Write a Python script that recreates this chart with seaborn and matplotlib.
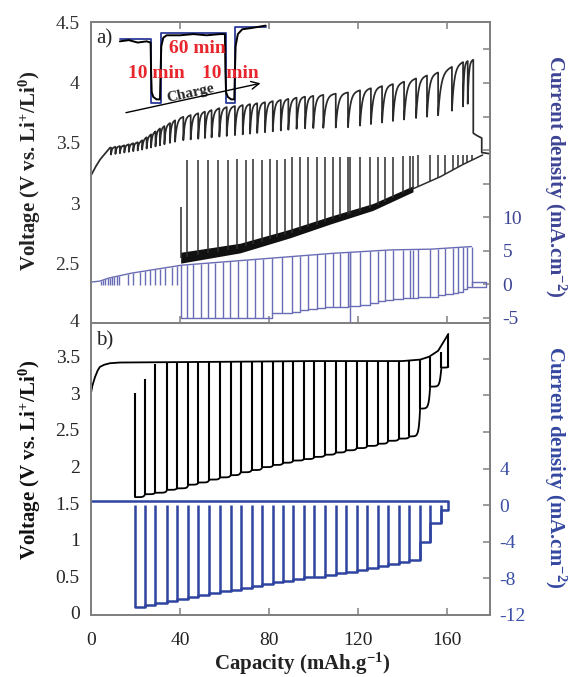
import numpy as np
import matplotlib
matplotlib.use("Agg")
import matplotlib.pyplot as plt
import seaborn as sns

# ======================= DATA =======================
X_TICKS = [0, 40, 80, 120, 160]
X_TICK_LABELS = ["0", "40", "80", "120", "160"]

# ---- panel a) : voltage (left axis) ----
A_TOP_X = [0, 2, 4, 8.5, 15, 22, 31, 40, 58, 79, 94, 116, 139, 157, 167, 171.8]
A_TOP_V = [3.23, 3.30, 3.36, 3.46, 3.48, 3.51, 3.62, 3.71, 3.79, 3.84, 3.88, 3.92, 4.00, 4.09, 4.17, 4.19]
A_BOT_X = [8, 22, 40, 79, 94, 116, 139, 157, 167, 171.8]
A_BOT_V = [3.40, 3.44, 3.52, 3.59, 3.62, 3.63, 3.69, 3.73, 3.80, 3.85]
A_ARCH_X = [9, 11, 13, 15, 17, 19, 21, 23, 25, 27, 29, 31, 33, 35.5, 37.8, 41.5, 44.8,
            48.2, 51.2, 54.2, 57.7, 61, 64.7, 68.2, 71.5, 74.7, 78.2, 81.7, 85.3, 88.7,
            92.4, 96.2, 99.9, 104.4, 110.0, 115.5, 120.9, 125.8, 130.8, 135.7, 140.7,
            146.1, 151, 156, 162.2, 167.2, 169.3, 171.8]
A_TAIL_X = [171.8, 173.5, 175.6, 175.6, 179.3]
A_TAIL_V = [3.58, 3.56, 3.54, 3.42, 3.41]

A_LOW_X = [40.3, 67, 89.4, 107.4, 126.7, 144.7, 157, 167, 176]
A_LOW_V = [2.55, 2.63, 2.75, 2.86, 2.97, 3.12, 3.22, 3.32, 3.40]
A_BAND_END = 144.7
A_LOW_PULSE_X = [40.3, 43.3, 48.0, 52.6, 56.9, 61.4, 65.7, 69.5, 72.9, 76.7, 80.4, 83.7,
                 87.2, 90.2, 93.9, 97.7, 101.4, 105.2, 108.9, 111.9, 115.6, 116.4, 120.9,
                 125.4, 129.1, 132.1, 135.9, 140.4, 143.4, 144.9, 147.1, 152.4, 156.1,
                 159.1, 162.8, 165.0, 167.2, 168.8, 171.0]
A_LOW_PULSE_TOP = [2.97, 3.36, 3.36, 3.36, 3.36, 3.36, 3.37, 3.36, 3.37, 3.36, 3.37, 3.36,
                   3.37, 3.38, 3.38, 3.38, 3.38, 3.38, 3.38, 3.38, 3.38, 3.38, 3.38,
                   3.38, 3.38, 3.38, 3.38, 3.39, 3.39, 3.39, 3.40, 3.40, 3.40,
                   3.40, 3.40, 3.40, 3.40, 3.40, 3.40]

# ---- panel a) : current density (right axis) ----
A_CUR_TOP_X = [0, 4, 8, 17.5, 40, 59, 89.4, 104, 134, 152, 171]
A_CUR_TOP_V = [0.3, 0.45, 0.9, 1.6, 2.8, 3.3, 4.1, 4.5, 5.1, 5.2, 5.6]
A_CUR_PULSE_X = [4.5, 5.5, 6.5, 7.5, 8.5, 9.5, 10.5, 11.5, 12.5, 16.6, 18.9, 22.0, 24.3,
                 26.5, 28.8, 31.0, 33.3, 36.4, 38.7, 40.3, 43.0, 46.0, 49.3, 52.7, 55.7,
                 59.5, 62.5, 66.2, 70.0, 73.7, 77.4, 81.2, 85.7, 90.2, 93.9, 97.7, 101.4,
                 105.2, 108.9, 111.9, 115.6, 116.4, 120.9, 125.4, 129.1, 132.1, 135.9,
                 140.4, 143.4, 144.9, 147.1, 152.4, 156.1, 159.1, 162.8, 165.0, 167.2,
                 168.8, 171.0]
A_CUR_REST = -0.1
A_CUR_BOT_X = [40.3, 77, 80, 89.4, 94, 106, 116, 124, 134, 152, 165, 171]
A_CUR_BOT_V = [-5.1, -5.1, -4.4, -4.2, -3.9, -3.4, -3.3, -2.9, -2.2, -1.9, -1.2, -0.1]
A_CUR_SPIKE_X = [116.4]
A_CUR_SPIKE_LOW = [-5.8]
A_CUR_BOX_X = [171.0, 171.0, 177.5, 177.5, 171.0]
A_CUR_BOX_V = [-0.1, 0.35, 0.35, -0.4, -0.4]

# ---- panel a) inset schematic (left-axis units) ----
INSET_BLUE_X = [13.0, 27.0, 27.0, 31.3, 31.3, 60.5, 60.5, 64.7, 64.7, 78.5]
INSET_BLUE_V = [4.36, 4.36, 3.83, 3.83, 4.41, 4.41, 3.83, 3.83, 4.46, 4.46]
INSET_BLACK_X = [13.0, 17, 21, 25, 26.8, 27.0, 27.3, 28.0, 29.5, 31.0, 31.3, 31.6, 32.5, 34,
                 40, 46, 52, 58, 60.2, 60.4, 60.7, 61.5, 63, 64.4, 64.7, 65.0, 66, 68, 72, 78.5]
INSET_BLACK_V = [4.34, 4.35, 4.33, 4.34, 4.33, 4.10, 3.92, 3.88, 3.86, 3.86, 4.10, 4.30, 4.37,
                 4.39, 4.39, 4.40, 4.39, 4.40, 4.40, 4.10, 3.92, 3.88, 3.86, 3.86, 4.10, 4.30,
                 4.40, 4.44, 4.45, 4.47]

# ---- panel b) ----
B_PULSE_X = [19.8, 24.3, 28.8, 34.2, 38.6, 43.8, 48.3, 53.2, 58.0, 62.8, 67.3, 72.2, 77.0,
             81.9, 86.4, 90.9, 95.7, 100.4, 105.2, 110.0, 114.6, 119.4, 124.2, 129.1, 133.6,
             138.4, 143.1, 147.9, 152.4, 157.4, 160.6]
B_V_TOPS = [3.00, 3.20, 3.40, 3.42, 3.42, 3.43, 3.43, 3.43, 3.43, 3.43, 3.43, 3.43, 3.43,
            3.43, 3.43, 3.43, 3.44, 3.44, 3.44, 3.44, 3.44, 3.44, 3.44, 3.44, 3.44,
            3.44, 3.44, 3.46, 3.50, 3.57, 3.81]
B_V_BOTS = [1.58, 1.62, 1.64, 1.68, 1.70, 1.75, 1.78, 1.82, 1.85, 1.88, 1.92, 1.95, 1.99,
            2.02, 2.05, 2.08, 2.10, 2.13, 2.16, 2.19, 2.22, 2.25, 2.28, 2.31, 2.35,
            2.38, 2.41, 2.79, 3.09, 3.35]
B_V_END = 3.36
B_PLAT_X = [0, 0, 0.6, 1.8, 3, 4, 6, 8.5, 13, 60, 100, 140, 148, 152, 156, 160.6]
B_PLAT_V = [2.30, 3.00, 3.10, 3.22, 3.31, 3.36, 3.39, 3.41, 3.42, 3.43, 3.44, 3.44, 3.46,
            3.50, 3.58, 3.81]
B_I_LEVELS = [-11.1, -10.9, -10.7, -10.5, -10.3, -10.0, -9.8, -9.6, -9.4, -9.3, -9.0, -8.8,
              -8.6, -8.4, -8.3, -8.1, -7.9, -7.8, -7.6, -7.4, -7.3, -7.1, -6.9, -6.6,
              -6.4, -6.2, -6.0, -4.0, -2.0, -0.55]
B_I_TOP = 0.45
B_I_PULSE_TOP = 0.0

A_LEFT_TICKS = [2.03, 2.5, 3.0, 3.5, 4.0, 4.5]
A_LEFT_LABELS = ["4", "2.5", "3", "3.5", "4", "4.5"]
A_RIGHT_TICKS = [-5, 0, 5, 10, 15, 20, 25, 30, 35]
A_RIGHT_LABELS = ["-5", "0", "5", "10", "", "", "", "", ""]
B_LEFT_TICKS = [0, 0.5, 1, 1.5, 2, 2.5, 3, 3.5]
B_LEFT_LABELS = ["0", "0.5", "1", "1.5", "2", "2.5", "3", "3.5"]
B_RIGHT_TICKS = [-12, -8, -4, 0, 4, 8, 12, 16]
B_RIGHT_LABELS = ["-12", "-8", "-4", "0", "4", "", "", ""]

# ======================= STYLE =======================
sns.set_theme(style="white")
plt.rcParams["font.family"] = ["Liberation Serif", "DejaVu Serif"]
plt.rcParams["mathtext.fontset"] = "custom"
plt.rcParams["mathtext.rm"] = "Liberation Serif"
plt.rcParams["mathtext.bf"] = "Liberation Serif:bold"
plt.rcParams["mathtext.it"] = "Liberation Serif:italic"

SPINE = "#808080"
BLUE_A = "#6a6db5"
BLUE_B = "#2f44a0"
NAVY_A = "#3d4494"
NAVY_B = "#3a4fa5"
RED = "#e8262c"

fig = plt.figure(figsize=(5.7, 6.77), dpi=100)
axA = fig.add_axes([0.1596, 0.5229, 0.70, 0.4446])
axB = fig.add_axes([0.1596, 0.0916, 0.70, 0.4313])
axA2 = axA.twinx()
axB2 = axB.twinx()


def line(ax, x, y, **kw):
    sns.lineplot(x=np.asarray(x, float), y=np.asarray(y, float), ax=ax, sort=False,
                 estimator=None, legend=False, **kw)


# ======================= PANEL a =======================
xs, vs = [], []
x0 = np.linspace(0, A_ARCH_X[0], 40)
xs.append(x0); vs.append(np.interp(x0, A_TOP_X, A_TOP_V))
for a0, a1 in zip(A_ARCH_X[:-1], A_ARCH_X[1:]):
    xx = np.linspace(a0, a1, 30)
    bb = np.interp(a0, A_BOT_X, A_BOT_V)
    tau = 0.2 * (a1 - a0)
    top = np.interp(xx, A_TOP_X, A_TOP_V)
    xs.append(xx); vs.append(bb + (top - bb) * (1 - np.exp(-(xx - a0) / tau)))
xs.append(np.asarray(A_TAIL_X)); vs.append(np.asarray(A_TAIL_V))
line(axA, np.concatenate(xs), np.concatenate(vs), color="#2a2a2a", lw=1.25)

xb = np.linspace(A_LOW_X[0], A_BAND_END, 200)
cb = np.interp(xb, A_LOW_X, A_LOW_V)
hb = np.interp(xb, [A_LOW_X[0], A_BAND_END], [0.045, 0.025])
axA.fill_between(xb, cb - hb, cb + hb, color="#111111", lw=0)
xt = np.linspace(A_BAND_END, A_LOW_X[-1], 60)
line(axA, xt, np.interp(xt, A_LOW_X, A_LOW_V), color="#2e2e2e", lw=1.1)
lp = np.asarray(A_LOW_PULSE_X)
axA.vlines(lp, np.interp(lp, A_LOW_X, A_LOW_V), A_LOW_PULSE_TOP, color="#2e2e2e", lw=1.1)

line(axA, INSET_BLUE_X, INSET_BLUE_V, color="#2b3a99", lw=1.3)
line(axA, INSET_BLACK_X, INSET_BLACK_V, color="black", lw=1.4)
axA.text(47.6, 4.283, "60 min", color=RED, fontsize=14, fontweight="bold", ha="center", va="center")
axA.text(29.5, 4.076, "10 min", color=RED, fontsize=14, fontweight="bold", ha="center", va="center")
axA.text(62.8, 4.076, "10 min", color=RED, fontsize=14, fontweight="bold", ha="center", va="center")
axA.text(44.9, 3.913, "Charge", rotation=12.6, fontsize=11, fontweight="bold", ha="center",
         va="center", rotation_mode="anchor")
axA.annotate("", xy=(77.4, 3.998), xytext=(14.5, 3.745),
             arrowprops=dict(arrowstyle="->", lw=1.0, color="black", mutation_scale=14))
axA.text(0.012, 0.943, "a)", transform=axA.transAxes, fontsize=15, ha="left", va="center")

xc = np.linspace(0, A_CUR_TOP_X[-1], 300)
line(axA2, xc, np.interp(xc, A_CUR_TOP_X, A_CUR_TOP_V), color=BLUE_A, lw=1.0)
cp = np.asarray(A_CUR_PULSE_X)
lows = np.where(cp < A_CUR_BOT_X[0], A_CUR_REST, np.interp(cp, A_CUR_BOT_X, A_CUR_BOT_V))
axA2.vlines(cp, lows, np.interp(cp, A_CUR_TOP_X, A_CUR_TOP_V), color=BLUE_A, lw=1.0)
axA2.vlines(A_CUR_SPIKE_X, A_CUR_SPIKE_LOW, np.interp(A_CUR_SPIKE_X, A_CUR_TOP_X, A_CUR_TOP_V),
            color=BLUE_A, lw=1.0)
after = cp >= A_CUR_BOT_X[0]
line(axA2, np.repeat(cp[after], 2)[1:], np.repeat(lows[after], 2)[:-1], color=BLUE_A, lw=1.0)
line(axA2, A_CUR_BOX_X, A_CUR_BOX_V, color=BLUE_A, lw=1.0)

# ======================= PANEL b =======================
line(axB, B_PLAT_X, B_PLAT_V, color="black", lw=1.3)
bx = np.asarray(B_PULSE_X)
bots = list(B_V_BOTS) + [B_V_END]
lx, lv = [], []
for i in range(len(bx) - 1):
    xx = np.linspace(bx[i], bx[i + 1], 40)
    b0, b1 = bots[i], bots[i + 1]
    lx.append(xx)
    lv.append(b0 + (b1 - b0) * np.exp((xx - bx[i + 1]) / 0.55))
line(axB, np.concatenate(lx), np.concatenate(lv), color="black", lw=1.3)
axB.vlines(bx, bots, B_V_TOPS, color="black", lw=1.5)

line(axB2, [0, bx[-1]], [B_I_TOP, B_I_TOP], color=BLUE_B, lw=1.8)
lev = np.asarray(B_I_LEVELS)
line(axB2, np.repeat(bx, 2)[1:-1], np.repeat(lev, 2), color=BLUE_B, lw=1.8)
vlow = np.minimum(np.r_[lev, lev[-1]], np.r_[lev[0], lev])
axB2.vlines(bx[:-1], vlow[:-1], B_I_PULSE_TOP, color=BLUE_B, lw=1.8)
axB2.vlines(bx[-1], lev[-1], B_I_TOP, color=BLUE_B, lw=1.8)

# ======================= AXES =======================
for ax in (axA, axB, axA2, axB2):
    ax.set_xlim(0, 179.3)
    for s in ax.spines.values():
        s.set_color(SPINE)
        s.set_linewidth(1.4)
    ax.set_xlabel("")
    ax.set_ylabel("")
    ax.grid(False)

axA.set_ylim(2.01, 4.5)
axA2.set_ylim(-5.8, 39.1)
axB.set_ylim(-0.03, 3.96)
axB2.set_ylim(-12, 19.9)

axA.set_xticks(X_TICKS)
axA.set_xticklabels([])
axA.tick_params(axis="x", direction="in", top=True, bottom=True, length=5, color=SPINE, width=1.1)
axA.set_yticks(A_LEFT_TICKS)
axA.set_yticklabels(A_LEFT_LABELS)
axA.tick_params(axis="y", length=0, pad=8, labelsize=14, labelcolor="#333333")

axA2.set_yticks(A_RIGHT_TICKS)
axA2.set_yticklabels(A_RIGHT_LABELS)
axA2.tick_params(axis="y", direction="in", length=5, color=SPINE, width=1.1, pad=9,
                 labelsize=14, labelcolor=NAVY_A)

axB.set_xticks(X_TICKS)
axB.set_xticklabels(X_TICK_LABELS)
axB.tick_params(axis="x", direction="in", bottom=True, length=5, color=SPINE, width=1.1,
                pad=12, labelsize=14, labelcolor="#222222")
axB.set_yticks(B_LEFT_TICKS)
axB.set_yticklabels(B_LEFT_LABELS)
axB.tick_params(axis="y", length=0, pad=8, labelsize=14)

axB2.set_yticks(B_RIGHT_TICKS)
axB2.set_yticklabels(B_RIGHT_LABELS)
axB2.tick_params(axis="y", direction="in", length=5, color=SPINE, width=1.1, pad=7,
                 labelsize=14, labelcolor=NAVY_B)

axB.text(0.012, 0.939, "b)", transform=axB.transAxes, fontsize=15, ha="left", va="center")

vlabel = "Voltage (V vs. Li$^{\\mathbf{+}}$/Li$^{\\mathbf{0}}$)"
clabel = "Current density (mA.cm$^{\\mathbf{-2}}$)"
fig.text(0.0526, 0.7474, vlabel, rotation=90, fontsize=15, fontweight="bold",
         ha="center", va="center", color="#222222")
fig.text(0.0526, 0.3205, vlabel, rotation=90, fontsize=15, fontweight="bold",
         ha="center", va="center", color="#111111")
fig.text(0.9737, 0.740, clabel, rotation=270, fontsize=15, fontweight="bold",
         ha="center", va="center", color=NAVY_A)
fig.text(0.9737, 0.310, clabel, rotation=270, fontsize=15, fontweight="bold",
         ha="center", va="center", color="#3448a0")
fig.text(0.53, 0.019, "Capacity (mAh.g$^{\\mathbf{-1}}$)", fontsize=15, fontweight="bold",
         ha="center", va="center", color="#222222")

fig.savefig("out.png", dpi=100)
